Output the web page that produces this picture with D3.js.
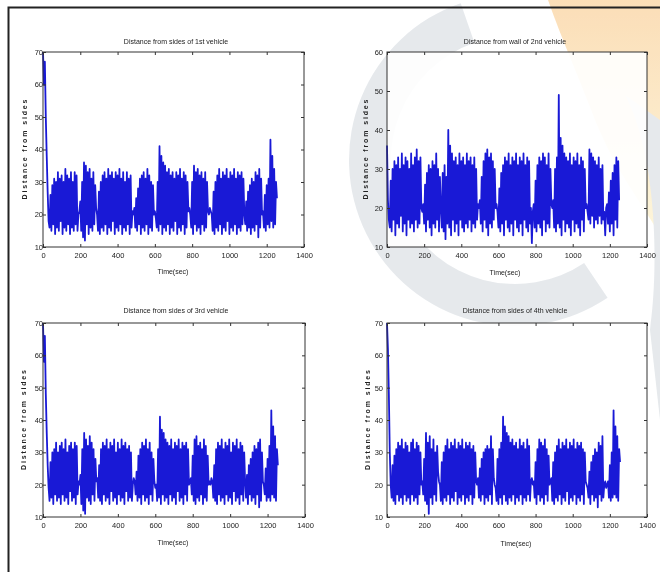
<!DOCTYPE html>
<html>
<head>
<meta charset="utf-8">
<script src="https://cdn.jsdelivr.net/npm/d3@7"></script>
<style>
  body { margin: 0; background: #fff; }
  svg text { font-family: "Liberation Sans", Arial, sans-serif; fill: #222; }
</style>
</head>
<body>
<div class="chart"></div>
<script>
// Set up page size
var svgWidth = 660;
var svgHeight = 578;

// samples are every 5 sec
var timeStep = 5;

// distance readings, one value per sample
var vehicle1 = [70, 60, 67, 50, 38, 27, 18,
  16, 26, 15, 29, 17, 31, 14, 30, 16, 33, 15, 31, 18, 32, 14, 30, 16, 34, 15, 32, 17, 31, 14, 33, 16, 30, 15, 33, 17, 32, 15,
  20, 21,
  24, 15, 30, 13, 36, 12, 35, 17, 33, 14, 34, 16, 31, 15, 33, 17, 29,
  22, 20,
  15, 27, 14, 30, 16, 32, 15, 33, 17, 31, 14, 34, 16, 32, 15, 33, 18, 31, 14, 33, 16, 32, 15, 34, 17, 31, 14, 33, 16, 30, 15, 33, 17, 31, 14, 32, 16,
  21, 20, 22,
  16, 25, 15, 28, 17, 31, 14, 32, 16, 33, 15, 31, 17, 34, 14, 32, 16, 30, 15, 29,
  20, 21, 19,
  16, 30, 15, 41, 17, 38, 14, 36, 16, 35, 15, 33, 17, 34, 14, 32, 16, 33, 15, 31, 18, 33, 14, 32, 16, 34, 15, 31, 17, 33, 14, 32, 16, 30,
  21, 22, 20,
  16, 30, 14, 35, 17, 33, 15, 34, 16, 32, 14, 33, 17, 31, 15, 33, 16, 30,
  21, 20, 22, 21, 20,
  15, 27, 14, 30, 16, 32, 15, 34, 17, 31, 14, 33, 16, 32, 15, 34, 18, 31, 14, 33, 16, 32, 15, 34, 17, 31, 14, 33, 16, 32, 15, 33, 17, 31,
  20,
  17, 24, 15, 27, 16, 29, 14, 31, 16, 30, 15, 33, 17, 32, 13, 34, 16, 31,
  20, 21,
  16, 26, 15, 29, 17, 31, 16, 43, 18, 38, 16, 34, 17, 30, 25];

var vehicle2 = [36, 22, 17,
  15, 27, 14, 30, 17, 32, 13, 31, 16, 33, 15, 30, 18, 34, 14, 31, 16, 33, 13, 32, 17, 30, 15, 34, 16, 31, 14, 33, 17, 35, 15, 32, 16, 33,
  20, 19, 21,
  16, 26, 14, 29, 17, 31, 15, 30, 13, 32, 16, 31, 15, 34, 17, 30, 14, 28,
  20, 15, 29,
  14, 31, 12, 28, 16, 40, 15, 36, 13, 34, 17, 32, 14, 33, 16, 31, 13, 34, 17, 32, 15, 33, 14, 31, 16, 34, 15, 32, 17, 33, 14, 31, 16, 33, 15, 30, 17,
  21, 20, 22,
  16, 28, 14, 32, 17, 34, 15, 35, 13, 33, 16, 34, 15, 32, 17, 30,
  20, 21, 19,
  15, 25, 14, 29, 16, 31, 13, 33, 17, 32, 15, 34, 14, 31, 16, 33, 13, 32, 17, 34, 15, 31, 14, 33, 16, 32, 13, 34, 17, 31, 15, 33, 14, 32, 16,
  20, 11, 19, 21,
  15, 27, 14, 31, 16, 33, 15, 32, 13, 34, 17, 33, 14, 31, 16, 34, 15, 30,
  21, 20, 22,
  15, 30, 14, 33, 16, 49, 15, 38, 13, 36, 17, 34, 14, 33, 16, 32, 15, 34, 13, 31, 17, 33, 14, 32, 16, 34, 15, 31, 13, 33, 17, 32, 14, 30,
  20, 21, 19,
  17, 35, 16, 34, 18, 33, 15, 32, 17, 31, 16, 33, 18, 30, 16, 31, 17,
  19, 13, 20, 21,
  16, 24, 14, 27, 16, 29, 13, 31, 17, 33, 15, 32, 22];

var vehicle3 = [70, 58, 66, 48, 36, 26, 19,
  15, 27, 16, 30, 14, 31, 17, 33, 15, 30, 16, 32, 14, 33, 17, 31, 15, 34, 16, 30, 14, 32, 18, 33, 15, 31, 16, 33, 14, 32, 17,
  21, 20,
  23, 14, 31, 12, 36, 11, 34, 16, 32, 15, 35, 14, 33, 17, 31, 15, 28,
  21, 22,
  16, 26, 15, 31, 14, 33, 17, 32, 15, 34, 16, 31, 14, 33, 18, 32, 15, 34, 16, 30, 14, 33, 17, 31, 15, 34, 16, 32, 14, 33, 18, 31, 15, 32, 16, 30, 15,
  20, 22, 21,
  17, 24, 15, 29, 16, 31, 14, 33, 17, 32, 15, 34, 16, 31, 14, 33, 17, 30, 15, 28,
  21, 19, 20,
  15, 31, 16, 41, 14, 37, 17, 36, 15, 34, 16, 33, 14, 32, 17, 34, 15, 31, 16, 33, 14, 32, 18, 34, 15, 31, 16, 33, 14, 32, 17, 33, 15, 31,
  20, 21, 22,
  17, 29, 15, 34, 14, 35, 16, 32, 15, 33, 17, 31, 14, 34, 16, 32, 15, 29,
  20, 21, 20, 22, 21,
  16, 26, 15, 31, 14, 33, 17, 32, 15, 34, 16, 31, 14, 33, 17, 32, 15, 34, 16, 30, 14, 33, 18, 32, 15, 34, 16, 31, 14, 33, 17, 32, 15, 30,
  21,
  16, 23, 14, 26, 17, 28, 15, 30, 16, 32, 14, 31, 17, 33, 13, 34, 15, 30,
  21, 20,
  17, 25, 15, 28, 16, 32, 15, 43, 17, 38, 16, 35, 15, 31, 26];

var vehicle4 = [70, 62, 48, 30, 20,
  16, 26, 15, 29, 14, 31, 17, 33, 15, 32, 16, 34, 14, 31, 17, 33, 15, 32, 16, 30, 14, 33, 17, 34, 15, 31, 16, 33, 14, 32, 17, 30,
  20, 21,
  17, 28, 15, 36, 14, 33, 11, 35, 16, 31, 14, 34, 17, 30, 15, 32, 24,
  21, 20,
  15, 27, 14, 30, 16, 32, 15, 34, 17, 31, 14, 33, 16, 32, 15, 34, 18, 31, 14, 33, 16, 32, 15, 34, 17, 31, 14, 33, 16, 32, 15, 33, 17, 31, 14, 32, 16, 30,
  21, 20, 22,
  16, 25, 15, 28, 17, 30, 14, 31, 16, 32, 15, 31, 17, 35, 14, 31, 22,
  20, 19,
  15, 28, 14, 31, 16, 33, 14, 41, 17, 38, 15, 36, 14, 35, 16, 33, 15, 34, 17, 32, 14, 33, 16, 31, 15, 34, 17, 32, 14, 33, 16, 31, 15, 34, 17, 32, 15,
  21, 22, 20, 21,
  16, 27, 14, 31, 17, 34, 15, 33, 16, 32, 14, 34, 17, 31, 15, 29,
  20, 21, 22,
  15, 27, 14, 30, 16, 32, 15, 34, 17, 31, 14, 33, 16, 32, 15, 34, 18, 31, 14, 33, 16, 32, 15, 34, 17, 31, 14, 33, 16, 32, 15, 33, 17, 31, 14, 30,
  21, 20, 19,
  16, 24, 14, 27, 17, 29, 15, 31, 16, 30, 13, 33, 17, 32, 15, 35, 16,
  20, 21, 19, 20, 21,
  16, 26, 15, 30, 16, 43, 17, 38, 16, 35, 15, 31, 27];

// tick labels
var xTicks = [0, 200, 400, 600, 800, 1000, 1200, 1400];
var yTicks70 = [10, 20, 30, 40, 50, 60, 70];
var yTicks60 = [10, 20, 30, 40, 50, 60];

var titles = ["Distance from sides of 1st vehicle", "Distance from wall of 2nd vehicle",
  "Distance from sides of 3rd vehicle", "Distance from sides of 4th vehicle"];

// panel layout
var panels = [
  { data: vehicle1, title: titles[0], yMax: 70, yTicks: yTicks70, left: 43, right: 304, top: 52, bottom: 247, yPad: 0, ylabX: 25, xlabX: 173, xlabY: 274, titleX: 176, titleY: 44 },
  { data: vehicle2, title: titles[1], yMax: 60, yTicks: yTicks60, left: 387, right: 647, top: 52, bottom: 247, yPad: 4, ylabX: 366, xlabX: 505, xlabY: 275, titleX: 515, titleY: 44 },
  { data: vehicle3, title: titles[2], yMax: 70, yTicks: yTicks70, left: 43, right: 305, top: 323, bottom: 517, yPad: 0, ylabX: 24, xlabX: 173, xlabY: 545, titleX: 176, titleY: 313 },
  { data: vehicle4, title: titles[3], yMax: 70, yTicks: yTicks70, left: 387, right: 647, top: 323, bottom: 517, yPad: 4, ylabX: 368, xlabX: 516, xlabY: 546, titleX: 515, titleY: 313 }
];

var svg = d3.select(".chart")
  .append("svg")
  .attr("width", svgWidth)
  .attr("height", svgHeight);

// faint watermark behind the plots
var defs = svg.append("defs");
var grad = defs.append("linearGradient")
  .attr("id", "flame")
  .attr("x1", 0).attr("y1", 0).attr("x2", 0).attr("y2", 1);
grad.append("stop").attr("offset", "0%").attr("stop-color", "#fbd6a6");
grad.append("stop").attr("offset", "100%").attr("stop-color", "#fdf4d2");

var mark = svg.append("g").attr("opacity", 0.8);
mark.append("path")
  .attr("d", "M548,0 L660,0 L660,235 C640,200 615,170 595,120 C580,80 562,40 548,0 Z")
  .attr("fill", "url(#flame)");
mark.append("path")
  .attr("transform", "translate(515,160)")
  .attr("d", d3.arc().innerRadius(124).outerRadius(166).startAngle(2.55).endAngle(5.95)())
  .attr("fill", "#e0e4e8");
mark.append("path")
  .attr("d", "M625,95 C655,150 660,260 650,330 L660,420 L660,120 Z")
  .attr("fill", "#e0e4e8");

// outer frame
svg.append("path")
  .attr("d", "M8.5,572 L8.5,7.5 L660,7.5")
  .attr("fill", "none")
  .attr("stroke", "#222")
  .attr("stroke-width", 2);

panels.forEach(function(p) {
  var xScale = d3.scaleLinear().domain([0, 1400]).range([p.left, p.right]);
  var yScale = d3.scaleLinear().domain([10, p.yMax]).range([p.bottom, p.top]);
  var g = svg.append("g");

  g.append("rect")
    .attr("x", p.left).attr("y", p.top)
    .attr("width", p.right - p.left).attr("height", p.bottom - p.top)
    .attr("fill", "#fff").attr("fill-opacity", 0.9);

  var line = d3.line()
    .x(function(d, i) { return xScale(i * timeStep); })
    .y(function(d) { return yScale(d); });

  g.append("path")
    .datum(p.data)
    .attr("d", line)
    .attr("fill", "none")
    .attr("stroke", "#0000d2")
    .attr("stroke-opacity", 0.9)
    .attr("stroke-linejoin", "round")
    .attr("stroke-width", 1.8);

  // axes, ticks inside like matlab
  g.append("g")
    .attr("transform", `translate(0, ${p.bottom})`)
    .call(d3.axisBottom(xScale).tickValues(xTicks).tickFormat(d3.format("d")).tickSize(-3).tickSizeOuter(0).tickPadding(6));
  g.append("g")
    .attr("transform", `translate(0, ${p.top})`)
    .call(d3.axisTop(xScale).tickValues(xTicks).tickSize(-3).tickSizeOuter(0).tickFormat(""));
  g.append("g")
    .attr("transform", `translate(${p.left}, 0)`)
    .call(d3.axisLeft(yScale).tickValues(p.yTicks).tickSize(-3).tickSizeOuter(0).tickPadding(p.yPad));
  g.append("g")
    .attr("transform", `translate(${p.right}, 0)`)
    .call(d3.axisRight(yScale).tickValues(p.yTicks).tickSize(-3).tickSizeOuter(0).tickFormat(""));

  g.selectAll(".tick line").attr("stroke", "#333");
  g.selectAll(".domain").attr("stroke", "none");
  g.selectAll(".tick text").attr("font-size", "7.5px").attr("font-family", "Liberation Sans, Arial, sans-serif").attr("fill", "#333");

  g.append("rect")
    .attr("x", p.left).attr("y", p.top)
    .attr("width", p.right - p.left).attr("height", p.bottom - p.top)
    .attr("fill", "none").attr("stroke", "#333").attr("stroke-width", 1);

  g.append("text")
    .attr("x", p.titleX).attr("y", p.titleY)
    .attr("text-anchor", "middle")
    .attr("font-size", "7px")
    .text(p.title);

  g.append("text")
    .attr("x", p.xlabX).attr("y", p.xlabY)
    .attr("text-anchor", "middle")
    .attr("font-size", "7px")
    .text("Time(sec)");

  g.append("text")
    .attr("transform", `translate(${p.ylabX}, ${(p.top + p.bottom) / 2}) rotate(-90)`)
    .attr("text-anchor", "middle")
    .attr("dy", "0.35em")
    .attr("font-size", "7px")
    .attr("font-weight", "bold")
    .attr("textLength", 100)
    .attr("lengthAdjust", "spacing")
    .text("Distance from sides");
});
</script>
</body>
</html>
